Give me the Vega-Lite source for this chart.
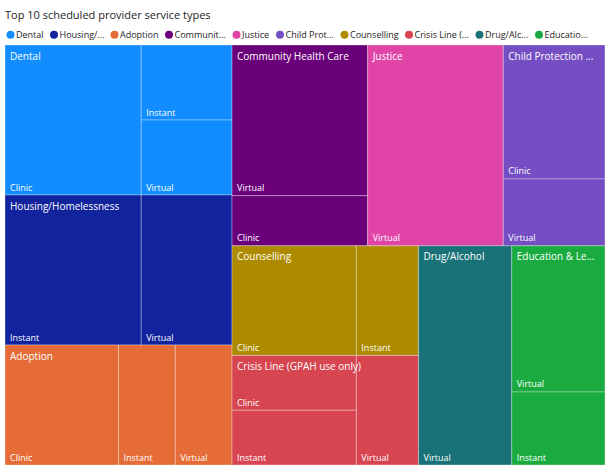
{
  "$schema": "https://vega.github.io/schema/vega-lite/v6.json",
  "width": 600,
  "height": 420,
  "autosize": {"type": "none"},
  "padding": {"left": 5, "top": 45, "right": 5, "bottom": 8},
  "background": "white",
  "title": {
    "text": "Top 10 scheduled provider service types",
    "anchor": "start",
    "frame": "group",
    "font": "Open Sans",
    "fontSize": 11,
    "fontWeight": "normal",
    "color": "#252423",
    "baseline": "alphabetic",
    "dy": 3.5
  },
  "config": {
    "view": {"stroke": null},
    "text": {"font": "Open Sans"}
  },
  "data": {
    "values": [
      {"category": "Dental", "service": "Clinic", "count": 3},
      {"category": "Dental", "service": "Instant", "count": 1},
      {"category": "Dental", "service": "Virtual", "count": 1},
      {"category": "Housing/Homelessness", "service": "Instant", "count": 3},
      {"category": "Housing/Homelessness", "service": "Virtual", "count": 2},
      {"category": "Adoption", "service": "Clinic", "count": 2},
      {"category": "Adoption", "service": "Instant", "count": 1},
      {"category": "Adoption", "service": "Virtual", "count": 1},
      {"category": "Community Health Care", "service": "Virtual", "count": 3},
      {"category": "Community Health Care", "service": "Clinic", "count": 1},
      {"category": "Justice", "service": "Virtual", "count": 4},
      {"category": "Child Protection Services", "service": "Clinic", "count": 2},
      {"category": "Child Protection Services", "service": "Virtual", "count": 1},
      {"category": "Counselling", "service": "Clinic", "count": 2},
      {"category": "Counselling", "service": "Instant", "count": 1},
      {"category": "Crisis Line (GPAH use only)", "service": "Clinic", "count": 1},
      {"category": "Crisis Line (GPAH use only)", "service": "Instant", "count": 1},
      {"category": "Crisis Line (GPAH use only)", "service": "Virtual", "count": 1},
      {"category": "Drug/Alcohol", "service": "Virtual", "count": 3},
      {"category": "Education & Learning", "service": "Virtual", "count": 2},
      {"category": "Education & Learning", "service": "Instant", "count": 1}
    ]
  },
  "transform": [
    {"window": [{"op": "row_number", "as": "idx"}]},
    {"calculate": "datum.category=='Dental' ? (datum.service=='Clinic' ? 'A|Dental|Clinic' : 'A|Dental|IV|'+datum.service) : (datum.category=='Housing/Homelessness' || datum.category=='Adoption') ? 'A|'+datum.category+'|'+datum.service : (datum.category=='Community Health Care' || datum.category=='Justice' || datum.category=='Child Protection Services') ? 'B|Top|'+datum.category+'|'+datum.service : datum.category=='Counselling' ? 'B|Bottom|CC|Counselling|'+datum.service : datum.category=='Crisis Line (GPAH use only)' ? (datum.service=='Virtual' ? 'B|Bottom|CC|Crisis|Virtual' : 'B|Bottom|CC|Crisis|CI|'+datum.service) : 'B|Bottom|'+datum.category+'|'+datum.service", "as": "path"},
    {"calculate": "join(slice(split(datum.path,'|'),0,1),'|')", "as": "k1"},
    {"calculate": "join(slice(split(datum.path,'|'),0,2),'|')", "as": "k2"},
    {"calculate": "join(slice(split(datum.path,'|'),0,3),'|')", "as": "k3"},
    {"calculate": "join(slice(split(datum.path,'|'),0,4),'|')", "as": "k4"},
    {"calculate": "join(slice(split(datum.path,'|'),0,5),'|')", "as": "k5"},
    {"calculate": "join(slice(split(datum.path,'|'),0,6),'|')", "as": "k6"},
    {"calculate": "0", "as": "x0"},
    {"calculate": "1", "as": "x1"},
    {"calculate": "0", "as": "y0"},
    {"calculate": "1", "as": "y1"},
    {"joinaggregate": [{"op": "sum", "field": "count", "as": "s0"}]},

    {"joinaggregate": [{"op": "sum", "field": "count", "as": "s1"}, {"op": "min", "field": "idx", "as": "o1"}], "groupby": ["k1"]},
    {"window": [{"op": "sum", "field": "count", "as": "c1"}], "sort": [{"field": "o1", "order": "ascending"}], "frame": [null, 0], "ignorePeers": false},
    {"calculate": "datum.x1-datum.x0", "as": "w1"},
    {"calculate": "datum.x0 + datum.w1*(datum.c1-datum.s1)/datum.s0", "as": "x0"},
    {"calculate": "datum.x0 + datum.w1*datum.s1/datum.s0", "as": "x1"},

    {"joinaggregate": [{"op": "sum", "field": "count", "as": "s2"}, {"op": "min", "field": "idx", "as": "o2"}], "groupby": ["k2"]},
    {"window": [{"op": "sum", "field": "count", "as": "c2"}], "groupby": ["k1"], "sort": [{"field": "o2", "order": "ascending"}], "frame": [null, 0], "ignorePeers": false},
    {"calculate": "datum.y1-datum.y0", "as": "h2"},
    {"calculate": "datum.y0 + datum.h2*(datum.c2-datum.s2)/datum.s1", "as": "y0"},
    {"calculate": "datum.y0 + datum.h2*datum.s2/datum.s1", "as": "y1"},

    {"joinaggregate": [{"op": "sum", "field": "count", "as": "s3"}, {"op": "min", "field": "idx", "as": "o3"}], "groupby": ["k3"]},
    {"window": [{"op": "sum", "field": "count", "as": "c3"}], "groupby": ["k2"], "sort": [{"field": "o3", "order": "ascending"}], "frame": [null, 0], "ignorePeers": false},
    {"calculate": "datum.x1-datum.x0", "as": "w3"},
    {"calculate": "datum.x0 + datum.w3*(datum.c3-datum.s3)/datum.s2", "as": "x0"},
    {"calculate": "datum.x0 + datum.w3*datum.s3/datum.s2", "as": "x1"},

    {"joinaggregate": [{"op": "sum", "field": "count", "as": "s4"}, {"op": "min", "field": "idx", "as": "o4"}], "groupby": ["k4"]},
    {"window": [{"op": "sum", "field": "count", "as": "c4"}], "groupby": ["k3"], "sort": [{"field": "o4", "order": "ascending"}], "frame": [null, 0], "ignorePeers": false},
    {"calculate": "datum.y1-datum.y0", "as": "h4"},
    {"calculate": "datum.y0 + datum.h4*(datum.c4-datum.s4)/datum.s3", "as": "y0"},
    {"calculate": "datum.y0 + datum.h4*datum.s4/datum.s3", "as": "y1"},

    {"joinaggregate": [{"op": "sum", "field": "count", "as": "s5"}, {"op": "min", "field": "idx", "as": "o5"}], "groupby": ["k5"]},
    {"window": [{"op": "sum", "field": "count", "as": "c5"}], "groupby": ["k4"], "sort": [{"field": "o5", "order": "ascending"}], "frame": [null, 0], "ignorePeers": false},
    {"calculate": "datum.x1-datum.x0", "as": "w5"},
    {"calculate": "datum.x0 + datum.w5*(datum.c5-datum.s5)/datum.s4", "as": "x0"},
    {"calculate": "datum.x0 + datum.w5*datum.s5/datum.s4", "as": "x1"},

    {"joinaggregate": [{"op": "sum", "field": "count", "as": "s6"}, {"op": "min", "field": "idx", "as": "o6"}], "groupby": ["k6"]},
    {"window": [{"op": "sum", "field": "count", "as": "c6"}], "groupby": ["k5"], "sort": [{"field": "o6", "order": "ascending"}], "frame": [null, 0], "ignorePeers": false},
    {"calculate": "datum.y1-datum.y0", "as": "h6"},
    {"calculate": "datum.y0 + datum.h6*(datum.c6-datum.s6)/datum.s5", "as": "y0"},
    {"calculate": "datum.y0 + datum.h6*datum.s6/datum.s5", "as": "y1"}
  ],
  "layer": [
    {
      "mark": {"type": "rect", "stroke": "white", "strokeOpacity": 0.3, "strokeWidth": 1},
      "encoding": {
        "x": {"field": "x0", "type": "quantitative", "scale": {"domain": [0, 1]}, "axis": null},
        "x2": {"field": "x1"},
        "y": {"field": "y0", "type": "quantitative", "scale": {"domain": [0, 1], "reverse": true}, "axis": null},
        "y2": {"field": "y1"},
        "color": {
          "field": "category",
          "type": "nominal",
          "scale": {
            "domain": ["Dental", "Housing/Homelessness", "Adoption", "Community Health Care", "Justice", "Child Protection Services", "Counselling", "Crisis Line (GPAH use only)", "Drug/Alcohol", "Education & Learning"],
            "range": ["#118DFF", "#12239E", "#E66C37", "#6B007B", "#E044A7", "#744EC2", "#AD8A00", "#D64550", "#197278", "#1AAB40"]
          },
          "legend": {
            "orient": "none",
            "legendX": 1,
            "legendY": -15,
            "direction": "horizontal",
            "title": null,
            "padding": 0,
            "symbolType": "circle",
            "symbolSize": 64,
            "symbolStrokeWidth": 0,
            "labelFont": "Open Sans",
            "labelFontSize": 9,
            "labelColor": "#252423",
            "labelOffset": 1,
            "columnPadding": 5.5,
            "labelExpr": "datum.label=='Housing/Homelessness' ? 'Housing/...' : datum.label=='Community Health Care' ? 'Communit...' : datum.label=='Child Protection Services' ? 'Child Prot...' : datum.label=='Crisis Line (GPAH use only)' ? 'Crisis Line (...' : datum.label=='Drug/Alcohol' ? 'Drug/Alc...' : datum.label=='Education & Learning' ? 'Educatio...' : datum.label"
          }
        }
      }
    },
    {
      "mark": {"type": "text", "align": "left", "baseline": "alphabetic", "dx": 5, "dy": -4.5, "fontSize": 9, "color": "white"},
      "encoding": {
        "x": {"field": "x0", "type": "quantitative"},
        "y": {"field": "y1", "type": "quantitative"},
        "text": {"field": "service"}
      }
    },
    {
      "transform": [
        {"aggregate": [{"op": "min", "field": "x0", "as": "cx"}, {"op": "min", "field": "y0", "as": "cy"}], "groupby": ["category"]},
        {"calculate": "datum.category=='Child Protection Services' ? 'Child Protection ...' : datum.category=='Education & Learning' ? 'Education & Le...' : datum.category", "as": "header"}
      ],
      "mark": {"type": "text", "align": "left", "baseline": "alphabetic", "dx": 5, "dy": 14.5, "fontSize": 10, "color": "white"},
      "encoding": {
        "x": {"field": "cx", "type": "quantitative"},
        "y": {"field": "cy", "type": "quantitative"},
        "text": {"field": "header"}
      }
    }
  ]
}
